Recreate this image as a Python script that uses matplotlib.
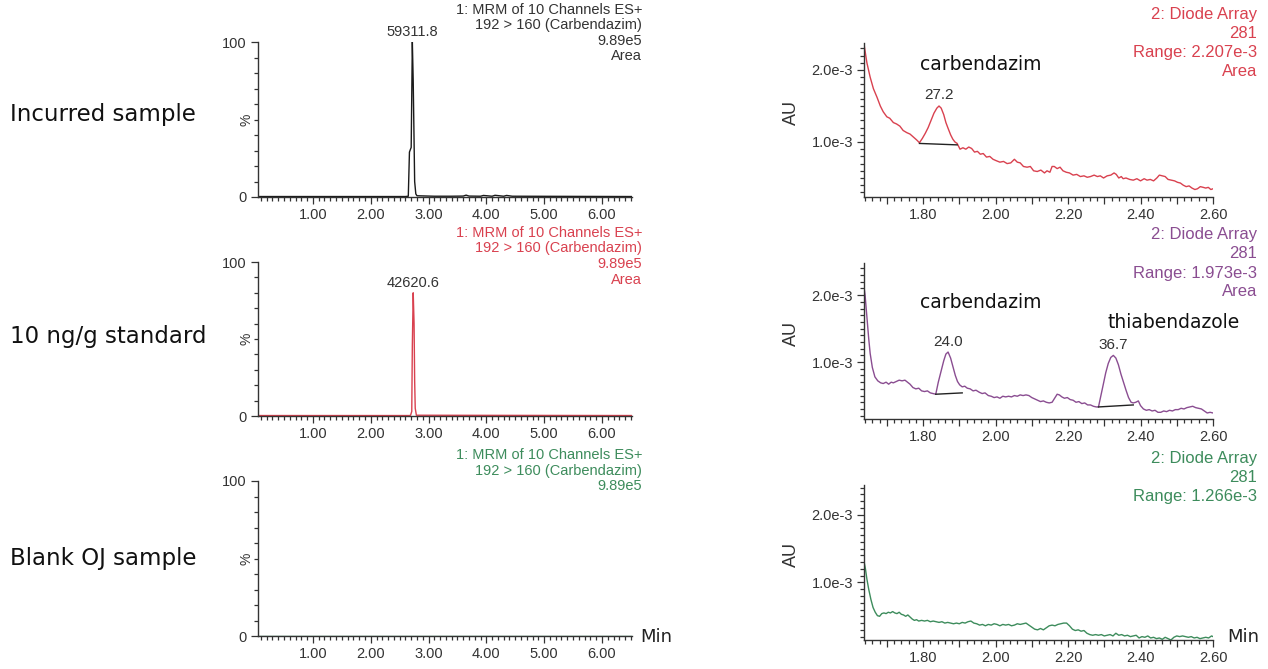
import matplotlib
matplotlib.use("Agg")
import matplotlib.pyplot as plt
from matplotlib.ticker import MultipleLocator, FixedLocator, FuncFormatter

W, H = 1268, 669
NARROW = ['Liberation Sans', 'DejaVu Sans']
PLAIN = ['Verdana', 'DejaVu Sans']

# ---- data -------------------------------------------------------------
sample_labels = ['Incurred sample', '10 ng/g standard', 'Blank OJ sample']

# MRM traces (% of 9.89e5)
mrm_incurred_t = [0.05, 2.60, 2.65, 2.67, 2.70, 2.72, 2.735, 2.76, 2.78, 2.80, 3.10,
                  3.40, 3.60, 3.65, 3.70, 3.90, 3.95, 4.10, 4.15, 4.30, 4.35, 4.45, 6.52]
mrm_incurred_pct = [0.3, 0.3, 0.5, 29, 32, 100, 75, 10, 2, 0.8, 0.5,
                    0.5, 0.6, 1.2, 0.6, 0.5, 1.0, 0.5, 1.1, 0.5, 1.0, 0.5, 0.3]
mrm_standard_t = [0.05, 2.67, 2.69, 2.71, 2.72, 2.735, 2.75, 2.76, 2.77, 2.79, 6.52]
mrm_standard_pct = [0.3, 0.3, 0.5, 3, 46, 80, 60, 23, 5, 0.5, 0.3]
mrm_blank_t = [0.05, 6.52]
mrm_blank_pct = [0.3, 0.3]
mrm_areas = ['59311.8', '42620.6', None]
mrm_apex_t = [2.72, 2.735, None]
mrm_apex_pct = [100, 80, None]

# Diode array traces (AU x 1e-3)
uv_incurred_t = [1.637, 1.645, 1.654, 1.663, 1.673, 1.682, 1.690, 1.700, 1.708, 1.718,
                 1.727, 1.736, 1.745, 1.755, 1.764, 1.773, 1.782, 1.790, 1.798, 1.806,
                 1.814, 1.822, 1.830, 1.838, 1.844, 1.850, 1.857, 1.863, 1.869, 1.876,
                 1.882, 1.888, 1.894, 1.902, 1.910, 1.918, 1.926, 1.934, 1.942, 1.950,
                 1.958, 1.966, 1.975, 1.984, 1.993, 2.002, 2.012, 2.022, 2.032, 2.042,
                 2.052, 2.060, 2.068, 2.077, 2.087, 2.096, 2.105, 2.115, 2.125, 2.135,
                 2.142, 2.150, 2.156, 2.162, 2.170, 2.178, 2.186, 2.195, 2.204, 2.214,
                 2.224, 2.234, 2.244, 2.253, 2.262, 2.272, 2.281, 2.289, 2.298, 2.308,
                 2.318, 2.327, 2.333, 2.340, 2.347, 2.352, 2.360, 2.370, 2.380, 2.390,
                 2.400, 2.410, 2.418, 2.427, 2.436, 2.445, 2.452, 2.460, 2.468, 2.476,
                 2.485, 2.494, 2.502, 2.510, 2.518, 2.526, 2.534, 2.542, 2.550, 2.557,
                 2.565, 2.573, 2.580, 2.587, 2.594, 2.600]
uv_incurred_au = [2.36, 2.10, 1.90, 1.74, 1.62, 1.50, 1.42, 1.35, 1.33, 1.27,
                  1.25, 1.22, 1.16, 1.13, 1.11, 1.07, 1.03, 0.99, 1.05, 1.12,
                  1.20, 1.30, 1.40, 1.47, 1.50, 1.47, 1.38, 1.27, 1.19, 1.10,
                  1.04, 1.00, 0.98, 0.90, 0.92, 0.90, 0.93, 0.91, 0.86, 0.87,
                  0.83, 0.84, 0.79, 0.80, 0.76, 0.74, 0.72, 0.73, 0.70, 0.71,
                  0.76, 0.72, 0.71, 0.66, 0.65, 0.66, 0.60, 0.59, 0.61, 0.57,
                  0.60, 0.58, 0.66, 0.66, 0.63, 0.65, 0.60, 0.58, 0.57, 0.54,
                  0.55, 0.52, 0.53, 0.51, 0.52, 0.54, 0.52, 0.53, 0.50, 0.53,
                  0.54, 0.57, 0.55, 0.50, 0.52, 0.49, 0.50, 0.48, 0.47, 0.49,
                  0.46, 0.49, 0.47, 0.48, 0.46, 0.50, 0.54, 0.53, 0.52, 0.48,
                  0.47, 0.46, 0.44, 0.43, 0.40, 0.38, 0.39, 0.36, 0.34, 0.35,
                  0.38, 0.37, 0.36, 0.37, 0.34, 0.35]

uv_standard_t = [1.6375, 1.640, 1.645, 1.650, 1.654, 1.660, 1.667, 1.675, 1.683, 1.690,
                 1.698, 1.705, 1.712, 1.718, 1.726, 1.734, 1.742, 1.750, 1.757, 1.764,
                 1.772, 1.780, 1.788, 1.796, 1.804, 1.812, 1.820, 1.828, 1.835, 1.842,
                 1.850, 1.857, 1.863, 1.869, 1.876, 1.883, 1.889, 1.895, 1.901, 1.908,
                 1.915, 1.922, 1.930, 1.938, 1.946, 1.955, 1.963, 1.971, 1.980, 1.988,
                 1.996, 2.004, 2.012, 2.020, 2.028, 2.036, 2.044, 2.052, 2.060, 2.068,
                 2.076, 2.084, 2.092, 2.100, 2.108, 2.116, 2.124, 2.132, 2.140, 2.148,
                 2.156, 2.163, 2.170, 2.176, 2.183, 2.190, 2.198, 2.206, 2.214, 2.222,
                 2.230, 2.238, 2.246, 2.254, 2.262, 2.270, 2.278, 2.284, 2.290, 2.297,
                 2.304, 2.311, 2.318, 2.325, 2.332, 2.339, 2.346, 2.353, 2.360, 2.367,
                 2.374, 2.380, 2.387, 2.394, 2.400, 2.408, 2.416, 2.424, 2.432, 2.440,
                 2.448, 2.456, 2.464, 2.472, 2.480, 2.488, 2.496, 2.504, 2.512, 2.520,
                 2.528, 2.536, 2.544, 2.552, 2.560, 2.568, 2.576, 2.584, 2.592, 2.600]
uv_standard_au = [2.10, 2.00, 1.67, 1.35, 1.13, 0.92, 0.78, 0.72, 0.69, 0.68,
                  0.70, 0.67, 0.70, 0.69, 0.71, 0.73, 0.72, 0.73, 0.70, 0.67,
                  0.62, 0.60, 0.61, 0.57, 0.56, 0.57, 0.54, 0.53, 0.52, 0.70,
                  0.87, 1.02, 1.12, 1.15, 1.06, 0.92, 0.80, 0.71, 0.66, 0.63,
                  0.64, 0.61, 0.60, 0.57, 0.58, 0.55, 0.53, 0.54, 0.50, 0.49,
                  0.47, 0.48, 0.46, 0.49, 0.48, 0.49, 0.48, 0.50, 0.49, 0.51,
                  0.50, 0.51, 0.50, 0.47, 0.45, 0.43, 0.41, 0.42, 0.40, 0.39,
                  0.40, 0.46, 0.52, 0.51, 0.48, 0.46, 0.47, 0.44, 0.43, 0.40,
                  0.41, 0.38, 0.39, 0.36, 0.36, 0.34, 0.33, 0.33, 0.48, 0.66,
                  0.84, 0.98, 1.07, 1.10, 1.06, 0.96, 0.82, 0.70, 0.58, 0.47,
                  0.40, 0.39, 0.40, 0.42, 0.35, 0.30, 0.28, 0.29, 0.27, 0.28,
                  0.25, 0.25, 0.27, 0.26, 0.28, 0.27, 0.29, 0.29, 0.31, 0.30,
                  0.32, 0.33, 0.34, 0.32, 0.31, 0.30, 0.27, 0.24, 0.25, 0.24]

uv_blank_t = [1.637, 1.641, 1.645, 1.650, 1.656, 1.662, 1.668, 1.674, 1.680, 1.686,
              1.692, 1.698, 1.704, 1.710, 1.716, 1.722, 1.728, 1.734, 1.740, 1.746,
              1.752, 1.758, 1.764, 1.770, 1.776, 1.782, 1.788, 1.796, 1.804, 1.812,
              1.820, 1.828, 1.836, 1.844, 1.852, 1.860, 1.868, 1.876, 1.884, 1.892,
              1.900, 1.908, 1.916, 1.924, 1.932, 1.940, 1.948, 1.956, 1.964, 1.972,
              1.980, 1.988, 1.996, 2.004, 2.012, 2.020, 2.028, 2.036, 2.044, 2.052,
              2.060, 2.068, 2.076, 2.084, 2.092, 2.100, 2.108, 2.116, 2.124, 2.132,
              2.140, 2.148, 2.156, 2.164, 2.172, 2.180, 2.188, 2.196, 2.204, 2.212,
              2.220, 2.228, 2.236, 2.244, 2.252, 2.260, 2.268, 2.276, 2.284, 2.292,
              2.300, 2.308, 2.316, 2.324, 2.332, 2.340, 2.348, 2.356, 2.364, 2.372,
              2.380, 2.388, 2.396, 2.404, 2.412, 2.420, 2.428, 2.436, 2.444, 2.452,
              2.460, 2.468, 2.476, 2.484, 2.492, 2.500, 2.508, 2.516, 2.524, 2.532,
              2.540, 2.548, 2.556, 2.564, 2.572, 2.580, 2.588, 2.596, 2.600]
uv_blank_au = [1.31, 1.20, 1.05, 0.90, 0.75, 0.63, 0.56, 0.51, 0.50, 0.54,
               0.55, 0.54, 0.56, 0.55, 0.57, 0.55, 0.54, 0.56, 0.53, 0.52,
               0.50, 0.52, 0.49, 0.46, 0.44, 0.45, 0.43, 0.44, 0.43, 0.44,
               0.42, 0.43, 0.42, 0.41, 0.42, 0.40, 0.41, 0.40, 0.39, 0.40,
               0.39, 0.41, 0.40, 0.42, 0.43, 0.40, 0.39, 0.37, 0.38, 0.36,
               0.38, 0.37, 0.39, 0.38, 0.36, 0.38, 0.37, 0.38, 0.36, 0.37,
               0.39, 0.38, 0.39, 0.40, 0.37, 0.34, 0.31, 0.30, 0.32, 0.30,
               0.33, 0.36, 0.37, 0.36, 0.38, 0.39, 0.40, 0.40, 0.36, 0.31,
               0.29, 0.30, 0.28, 0.29, 0.25, 0.23, 0.22, 0.23, 0.22, 0.23,
               0.21, 0.22, 0.23, 0.21, 0.25, 0.22, 0.23, 0.21, 0.22, 0.20,
               0.21, 0.22, 0.18, 0.20, 0.19, 0.21, 0.18, 0.19, 0.17, 0.18,
               0.16, 0.19, 0.17, 0.15, 0.19, 0.21, 0.20, 0.21, 0.20, 0.19,
               0.20, 0.18, 0.19, 0.17, 0.18, 0.19, 0.18, 0.21, 0.20]

# integrated peaks: (start t, start AU, end t, end AU, apex t, apex AU, area)
uv_peaks = [
    [(1.790, 0.98, 1.894, 0.96, 1.844, 1.50, '27.2')],
    [(1.835, 0.52, 1.908, 0.54, 1.869, 1.15, '24.0'),
     (2.284, 0.33, 2.380, 0.36, 2.325, 1.10, '36.7')],
    [],
]
uv_ranges = ['2.207e-3', '1.973e-3', '1.266e-3']
uv_ylims = [(0.236, 2.375), (0.15, 2.48), (0.15, 2.44)]

colors = ['#1a1a1a', '#d9414f', '#3d8c5c']
uv_colors = ['#d9414f', '#8a4d91', '#3d8c5c']
text_colors = ['#333333', '#d9414f', '#3d8c5c']
uv_text_colors = ['#d9414f', '#8a4d91', '#3d8c5c']

# ---- layout helpers ---------------------------------------------------
fig = plt.figure(figsize=(W / 100, H / 100), dpi=100)


def box(x0, y0, x1, y1):
    return [x0 / W, 1 - y1 / H, (x1 - x0) / W, (y1 - y0) / H]


def ftext(px, py, s, **kw):
    fig.text(px / W, 1 - py / H, s, **kw)


def style_axes(ax):
    ax.spines['top'].set_visible(False)
    ax.spines['right'].set_visible(False)
    for sp in ('left', 'bottom'):
        ax.spines[sp].set_linewidth(1.0)
        ax.spines[sp].set_color('#333333')
    ax.tick_params(which='both', direction='out', colors='#333333',
                   labelcolor='#333333', labelsize=10.5, width=0.9, pad=3)
    ax.tick_params(which='major', length=5)
    ax.tick_params(which='minor', length=3)
    for lbl in ax.get_xticklabels() + ax.get_yticklabels():
        lbl.set_family(NARROW)


left_boxes = [box(258, 42, 632, 197), box(258, 262, 632, 416), box(258, 481, 632, 636)]
right_boxes = [box(864, 43, 1213, 197), box(864, 263, 1213, 419), box(864, 485, 1213, 640)]

mrm_t = [mrm_incurred_t, mrm_standard_t, mrm_blank_t]
mrm_pct = [mrm_incurred_pct, mrm_standard_pct, mrm_blank_pct]
uv_t = [uv_incurred_t, uv_standard_t, uv_blank_t]
uv_au = [uv_incurred_au, uv_standard_au, uv_blank_au]

label_y = [115, 336, 558]
mrm_head_y = [10, 233, 455]
uv_head_y = [15, 235, 458]

for i in range(3):
    # sample label
    ftext(10, label_y[i], sample_labels[i], fontsize=16.5, color='#111111',
          ha='left', va='center', family=PLAIN)

    # MRM panel
    ax = fig.add_axes(left_boxes[i])
    ax.plot(mrm_t[i], mrm_pct[i], color=colors[i], lw=1.0)
    ax.set_xlim(0.05, 6.52)
    ax.set_ylim(0, 100)
    ax.xaxis.set_major_locator(FixedLocator([1, 2, 3, 4, 5, 6]))
    ax.xaxis.set_minor_locator(MultipleLocator(0.1))
    ax.xaxis.set_major_formatter(FuncFormatter(lambda v, p: f'{v:.2f}'))
    ax.yaxis.set_major_locator(FixedLocator([0, 100]))
    ax.yaxis.set_minor_locator(MultipleLocator(10))
    style_axes(ax)
    ax.set_ylabel('%', fontsize=10, color='#333333', family=NARROW)
    ax.yaxis.set_label_coords(-0.012, 0.5)
    if mrm_areas[i]:
        ax.text(mrm_apex_t[i], mrm_apex_pct[i] + 2, mrm_areas[i], ha='center',
                va='bottom', fontsize=10.5, color='#333333', family=NARROW, clip_on=False)

    head = ['1: MRM of 10 Channels ES+', '192 > 160 (Carbendazim)', '9.89e5']
    if i < 2:
        head.append('Area')
    for k, s in enumerate(head):
        ftext(642, mrm_head_y[i] + k * 15.5, s, ha='right', va='center',
              fontsize=10.5, color=text_colors[i], family=NARROW)

    # Diode array panel
    ax = fig.add_axes(right_boxes[i])
    ax.plot(uv_t[i], uv_au[i], color=uv_colors[i], lw=1.0)
    for (t0, a0, t1, a1, tp, ap, area) in uv_peaks[i]:
        ax.plot([t0, t1], [a0, a1], color='#222222', lw=1.0)
        ax.text(tp, ap + 0.05, area, ha='center', va='bottom', fontsize=11,
                color='#333333', family=NARROW)
    ax.set_xlim(1.637, 2.60)
    ax.set_ylim(*uv_ylims[i])
    ax.xaxis.set_major_locator(MultipleLocator(0.1))
    ax.xaxis.set_minor_locator(MultipleLocator(0.02))
    ax.xaxis.set_major_formatter(FuncFormatter(
        lambda v, p: f'{v:.2f}' if abs(round(v * 10) % 2) == 0 else ''))
    ax.yaxis.set_major_locator(FixedLocator([1.0, 2.0]))
    ax.yaxis.set_minor_locator(MultipleLocator(0.1))
    ax.yaxis.set_major_formatter(FuncFormatter(lambda v, p: f'{v:.1f}e-3'))
    style_axes(ax)
    ax.set_ylabel('AU', fontsize=13, color='#333333', family=NARROW)
    ax.yaxis.set_label_coords(-0.183, 0.55)

    uv_head = ['2: Diode Array', '281', 'Range: ' + uv_ranges[i]]
    if i < 2:
        uv_head.append('Area')
    for k, s in enumerate(uv_head):
        ftext(1257, uv_head_y[i] + k * 19, s, ha='right', va='center',
              fontsize=12, color=uv_text_colors[i], family=NARROW)

# compound names
ftext(920, 65, 'carbendazim', fontsize=13.5, color='#111111', va='center', family=PLAIN)
ftext(920, 303, 'carbendazim', fontsize=13.5, color='#111111', va='center', family=PLAIN)
ftext(1108, 322, 'thiabendazole', fontsize=13.5, color='#111111', va='center', family=PLAIN)

# time axis unit labels
ftext(640, 637, 'Min', fontsize=13, color='#222222', va='center', family=PLAIN)
ftext(1227, 637, 'Min', fontsize=13, color='#222222', va='center', family=PLAIN)

fig.savefig('out.png', dpi=100, facecolor='white')
